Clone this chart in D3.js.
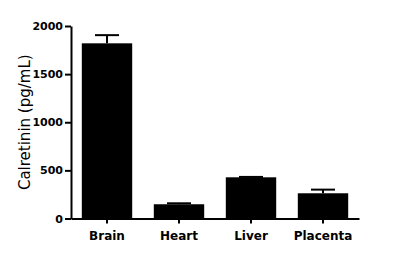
<html>
<head>
<script src="https://d3js.org/d3.v7.min.js"></script>
<style>
  body { margin: 0; background: #fff; }
  text { font-family: "DejaVu Sans", sans-serif; }
</style>
</head>
<body>
<svg width="403" height="260"></svg>
<script>
var categories = ["Brain", "Heart", "Liver", "Placenta"];
var means = [1820, 148, 428, 262];
var errors = [85, 10, 4, 38];
var yTicks = [0, 500, 1000, 1500, 2000];

var svg = d3.select("svg");

// plot area
var plotLeft = 71, plotRight = 359, plotTop = 26, plotBottom = 218.5;

var x = d3.scaleBand()
  .domain(categories)
  .range([plotLeft, plotRight])
  .paddingInner(0.3)
  .paddingOuter(0.15);

var y = d3.scaleLinear()
  .domain([0, 2000])
  .range([plotBottom, plotTop]);

// bars
svg.selectAll(".bar")
  .data(categories)
  .enter()
  .append("rect")
  .attr("x", function(d){ return x(d); })
  .attr("y", function(d, i){ return y(means[i]); })
  .attr("width", x.bandwidth())
  .attr("height", function(d, i){ return plotBottom - y(means[i]); })
  .attr("fill", "#000");

// error bars (upper only)
var capW = 24;
var eb = svg.selectAll(".err")
  .data(categories)
  .enter()
  .append("g")
  .attr("stroke", "#000")
  .attr("stroke-width", 2);
eb.append("line")
  .attr("x1", function(d){ return x(d) + x.bandwidth()/2; })
  .attr("x2", function(d){ return x(d) + x.bandwidth()/2; })
  .attr("y1", function(d, i){ return y(means[i]); })
  .attr("y2", function(d, i){ return y(means[i] + errors[i]); });
eb.append("line")
  .attr("x1", function(d){ return x(d) + x.bandwidth()/2 - capW/2; })
  .attr("x2", function(d){ return x(d) + x.bandwidth()/2 + capW/2; })
  .attr("y1", function(d, i){ return y(means[i] + errors[i]); })
  .attr("y2", function(d, i){ return y(means[i] + errors[i]); });

// y axis
var yAxis = d3.axisLeft(y).tickValues(yTicks).tickFormat(d3.format("d"))
  .tickSize(6).tickSizeOuter(0).tickPadding(2);
var gy = svg.append("g")
  .attr("transform", "translate(" + plotLeft + ",0)")
  .call(yAxis);
gy.select(".domain").attr("stroke-width", 2);
gy.selectAll(".tick line").attr("stroke-width", 2);
gy.selectAll("text")
  .attr("font-size", 11)
  .attr("font-weight", "bold")
  .attr("fill", "#000");

// x axis
var xAxis = d3.axisBottom(x).tickSize(5).tickSizeOuter(0).tickPadding(8);
var gx = svg.append("g")
  .attr("transform", "translate(0," + plotBottom + ")")
  .call(xAxis);
gx.select(".domain").attr("stroke-width", 2);
gx.selectAll(".tick line").attr("stroke-width", 2);
gx.selectAll("text")
  .attr("font-size", 12)
  .attr("font-weight", "bold")
  .attr("fill", "#000");

// y label
svg.append("text")
  .attr("transform", "translate(30," + ((plotTop + plotBottom) / 2) + ") rotate(-90)")
  .attr("text-anchor", "middle")
  .attr("font-size", 15)
  .attr("fill", "#000")
  .text("Calretinin (pg/mL)");
</script>
</body>
</html>
